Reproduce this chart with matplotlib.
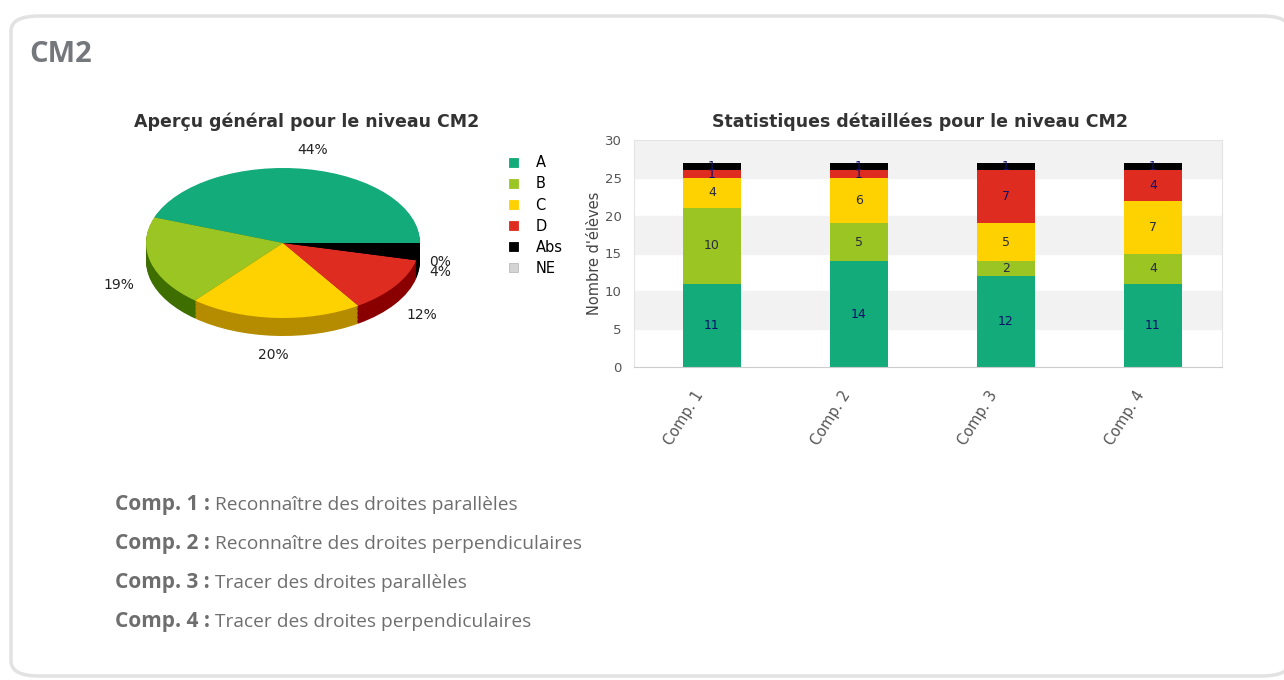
import matplotlib.pyplot as plt
from matplotlib.patches import FancyBboxPatch, Patch
import numpy as np

plt.rcParams['font.family'] = ['DejaVu Sans']

# data
comps = ['Comp. 1', 'Comp. 2', 'Comp. 3', 'Comp. 4']
levels = ['A', 'B', 'C', 'D', 'Abs', 'NE']
A = [11, 14, 12, 11]
B = [10, 5, 2, 4]
C = [4, 6, 5, 7]
D = [1, 1, 7, 4]
Abs = [1, 1, 1, 1]
NE = [0, 0, 0, 0]
descriptions = ['Reconnaître des droites parallèles',
                'Reconnaître des droites perpendiculaires',
                'Tracer des droites parallèles',
                'Tracer des droites perpendiculaires']

colors = ['#12ab79', '#9bc523', '#fed200', '#de2d20', '#000000', '#d4d4d4']
side_colors = ['#0b6e4e', '#3f6e00', '#b58c00', '#8a0000', '#000000', '#999999']

W, H = 1284, 680
fig = plt.figure(figsize=(W / 100, H / 100), dpi=100)


def fx(px):
    return px / W


def fy(py):
    return 1 - py / H


# card frame
card = FancyBboxPatch((fx(11), fy(676)), fx(1290) - fx(11), fy(16) - fy(676),
                      boxstyle='round,pad=0,rounding_size=0.022',
                      transform=fig.transFigure, facecolor='white',
                      edgecolor='#e2e2e2', linewidth=2.5, zorder=-5)
fig.patches.append(card)
fig.text(fx(29), fy(55), 'CM2', fontsize=21, fontweight='bold', color='#74777c',
         family='Open Sans', va='center', ha='left')

# ---- pie chart ----
series = [A, B, C, D, Abs, NE]
totals = [sum(s) for s in series]
pct = [100 * t / sum(totals) for t in totals]

cx, cy, rx, ry = 283, 243, 137, 75
ylo, yhi = -1.6, 1.2
axp = fig.add_axes([fx(cx - 1.25 * rx), fy(cy - ylo * ry), 2.5 * rx / W, (yhi - ylo) * ry / H])
depth = 0.24
for k in np.linspace(depth, 0.01, 14):
    axp.pie(totals, colors=side_colors, startangle=0, counterclock=True,
            center=(0, -k), wedgeprops=dict(linewidth=0))
axp.pie(totals, colors=colors, startangle=0, counterclock=True,
        center=(0, 0), wedgeprops=dict(linewidth=0))
axp.set_aspect('auto')
axp.set_xlim(-1.25, 1.25)
axp.set_ylim(ylo, yhi)
axp.axis('off')

start = 0
for i, p in enumerate(pct):
    mid = np.deg2rad(start + p * 3.6 / 2)
    start += p * 3.6
    lx = 1.24 * np.cos(mid)
    ly = 1.26 * np.sin(mid)
    if ly < 0.05:
        ly -= depth
    off = (0, 0)
    if levels[i] == 'Abs':
        off = (-8, 0)
    if levels[i] == 'NE':
        lx, ly = 1.24 * np.cos(np.deg2rad(353)), 1.22 * np.sin(np.deg2rad(353)) - depth
        off = (-8, 7)
    axp.annotate('%d%%' % round(p), (lx, ly), xytext=off, textcoords='offset points',
                 ha='center', va='center', fontsize=10, color='#222222',
                 annotation_clip=False)

fig.text(fx(307), fy(122), 'Aperçu général pour le niveau CM2', fontsize=12.5,
         fontweight='bold', color='#333333', ha='center', va='center')

handles = [Patch(facecolor=c, edgecolor='#bbbbbb' if l == 'NE' else c, linewidth=0.6)
           for c, l in zip(colors, levels)]
fig.legend(handles, levels, loc='upper left', bbox_to_anchor=(fx(502), fy(148)),
           frameon=False, fontsize=10.5, handlelength=0.6, handleheight=0.6,
           handletextpad=1.2, labelspacing=0.42, borderpad=0)

# ---- stacked bars ----
axb = fig.add_axes([fx(634), fy(367), fx(1222) - fx(634), fy(140) - fy(367)])
x = np.arange(len(comps))
for lo in range(0, 30, 10):
    axb.axhspan(lo + 5, lo + 10, color='#f2f2f2', zorder=0)
bottom = np.zeros(len(comps))
label_colors = ['#10106a', '#2a2a40', '#2a2a40', '#10106a', '#10106a', '#10106a']
for s, c, lc in zip(series, colors, label_colors):
    vals = np.array(s)
    if vals.sum() == 0:
        continue
    axb.bar(x + 0.03, vals, bottom=bottom, width=0.4, color=c, zorder=2)
    for xi, v, b in zip(x + 0.03, vals, bottom):
        if v > 0:
            axb.text(xi, b + v / 2, str(v), ha='center', va='center',
                     fontsize=9, color=lc, zorder=3)
    bottom += vals

axb.set_xlim(-0.5, len(comps) - 0.5)
axb.set_ylim(0, 30)
axb.set_yticks(range(0, 31, 5))
axb.set_xticks(x)
axb.set_xticklabels([])
# rotated category labels, sitting a bit left of each bar
for xi, comp in zip(x + 0.03, comps):
    axb.annotate(comp, xy=(xi, 0), xycoords=('data', 'axes fraction'),
                 xytext=(-13, -15), textcoords='offset points', rotation=58,
                 rotation_mode='anchor', ha='right', va='top', fontsize=10.5,
                 color='#555555', annotation_clip=False)
axb.tick_params(length=0, labelcolor='#555555')
axb.tick_params(axis='y', pad=9, labelsize=9.5)
axb.set_ylabel("Nombre d'élèves", fontsize=10.5, color='#444444', labelpad=2)
for sp in axb.spines.values():
    sp.set_color('#e4e4e4')
axb.spines['bottom'].set_color('#cccccc')
fig.text(fx(920), fy(122), 'Statistiques détaillées pour le niveau CM2', fontsize=12.5,
         fontweight='bold', color='#333333', ha='center', va='center')

# ---- descriptions ----
for i, (comp, desc) in enumerate(zip(comps, descriptions)):
    yb = fy(510 + i * 39)
    t = fig.text(fx(115), yb, comp + ' : ', fontsize=15,
                 fontweight='bold', color='#6e6e6e', family='Open Sans',
                 ha='left', va='baseline')
    axb.annotate(desc, xy=(1, yb), xycoords=(t, 'figure fraction'), ha='left',
                 va='baseline', fontsize=13.8, color='#6e6e6e', family='Open Sans',
                 annotation_clip=False)

fig.savefig('out.png', dpi=100)
